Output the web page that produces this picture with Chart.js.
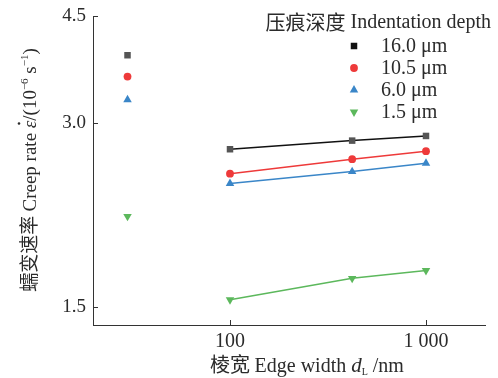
<!DOCTYPE html>
<html>
<head>
<meta charset="utf-8">
<script src="https://cdn.jsdelivr.net/npm/chart.js"></script>
<style>
html, body { margin: 0; padding: 0; background: #fff; }
#wrap { width: 498px; height: 378px; }
</style>
</head>
<body>
<div id="wrap"><canvas id="creepChart"></canvas></div>
<script>
// values (log-log axes)
const depthLabels = ['16.0 μm', '10.5 μm', '6.0 μm', '1.5 μm'];
const edgeWidths = [30, 100, 420, 1000];
const rate16 = [3.88, 2.72, 2.81, 2.86];
const rate105 = [3.58, 2.48, 2.62, 2.70];
const rate60 = [3.28, 2.39, 2.50, 2.58];
const rate15 = [2.11, 1.54, 1.67, 1.72];
const xTicks = [100, 1000];
const yTicks = [1.5, 3.0, 4.5];

const SERIF = "'Liberation Serif', 'Noto Sans CJK SC', serif";
const CJK = "'Noto Sans CJK SC', sans-serif";
const TXT = '#2b2b2b';

const styles = [
    { marker: '#555555', line: '#111111', legend: '#111111', shape: 'rect', r: 4.6, rot: 0 },
    { marker: '#ee3a3a', line: '#ee3a3a', legend: '#ee3a3a', shape: 'circle', r: 3.9, rot: 0 },
    { marker: '#3a86c8', line: '#3a86c8', legend: '#3a86c8', shape: 'triangle', r: 4.9, rot: 0 },
    { marker: '#5cb85c', line: '#5cb85c', legend: '#5cb85c', shape: 'triangle', r: 4.9, rot: 180 }
];
const seriesValues = [rate16, rate105, rate60, rate15];

const datasets = seriesValues.map((vals, i) => ({
    label: depthLabels[i],
    data: edgeWidths.map((x, j) => ({ x: x, y: vals[j] })),
    borderColor: styles[i].line,
    backgroundColor: styles[i].marker,
    pointBackgroundColor: styles[i].marker,
    pointBorderWidth: 0,
    pointStyle: styles[i].shape,
    pointRadius: styles[i].r,
    pointRotation: styles[i].rot,
    borderWidth: 1.5,
    tension: 0,
    // the 30 nm point stands alone, no line to it
    segment: {
        borderColor: c => c.p0DataIndex === 0 ? 'rgba(0,0,0,0)' : undefined
    }
}));

function drawRich(ctx, parts, x, y) {
    let total = 0;
    parts.forEach(p => { ctx.font = p.font; p.w = ctx.measureText(p.t).width; total += p.w; });
    let cx = x - total / 2;
    parts.forEach(p => {
        ctx.font = p.font;
        ctx.fillText(p.t, cx, y + (p.dy || 0));
        if (p.dot) {
            ctx.beginPath();
            ctx.arc(cx + p.w * 0.62, y - 17, 1.3, 0, Math.PI * 2);
            ctx.fill();
        }
        cx += p.w;
    });
}

function marker(ctx, shape, r, rot, x, y) {
    ctx.beginPath();
    if (shape === 'rect') {
        const s = r * Math.SQRT1_2;
        ctx.rect(x - s, y - s, 2 * s, 2 * s);
    } else if (shape === 'circle') {
        ctx.arc(x, y, r, 0, Math.PI * 2);
    } else {
        const d = rot ? -1 : 1;
        ctx.moveTo(x, y - d * r);
        ctx.lineTo(x - r * 0.866, y + d * r * 0.5);
        ctx.lineTo(x + r * 0.866, y + d * r * 0.5);
        ctx.closePath();
    }
    ctx.fill();
}

const decorPlugin = {
    id: 'decor',
    afterDraw(chart) {
        const ctx = chart.ctx;
        const xs = chart.scales.x, ys = chart.scales.y;
        const area = chart.chartArea;
        ctx.save();
        // inward tick marks
        ctx.strokeStyle = '#333';
        ctx.lineWidth = 1;
        ctx.beginPath();
        xTicks.forEach(v => {
            const px = Math.round(xs.getPixelForValue(v)) + 0.5;
            ctx.moveTo(px, area.bottom);
            ctx.lineTo(px, area.bottom - 5);
        });
        yTicks.forEach(v => {
            const py = Math.round(ys.getPixelForValue(v)) + 0.5;
            ctx.moveTo(area.left, py);
            ctx.lineTo(area.left + 5, py);
        });
        ctx.stroke();

        ctx.fillStyle = TXT;
        ctx.textBaseline = 'alphabetic';
        ctx.textAlign = 'left';
        // x title
        drawRich(ctx, [
            { t: '棱宽 ', font: '20px ' + CJK },
            { t: 'Edge width ', font: '20px ' + SERIF },
            { t: 'd', font: 'italic 21px ' + SERIF },
            { t: 'L', font: '10px ' + SERIF, dy: 3 },
            { t: ' /nm', font: '20px ' + SERIF }
        ], 307, 372);

        // y title (rotated)
        ctx.save();
        ctx.translate(36, 170);
        ctx.rotate(-Math.PI / 2);
        drawRich(ctx, [
            { t: '蠕变速率 ', font: '19px ' + CJK },
            { t: 'Creep rate ', font: '19px ' + SERIF },
            { t: 'ε', font: 'italic 19px ' + SERIF, dot: true },
            { t: '/(10', font: '19px ' + SERIF },
            { t: '−6', font: '11px ' + SERIF, dy: -8 },
            { t: ' s', font: '19px ' + SERIF },
            { t: '−1', font: '11px ' + SERIF, dy: -8 },
            { t: ')', font: '19px ' + SERIF }
        ], 0, 0);
        ctx.restore();

        // legend
        ctx.textBaseline = 'middle';
        ctx.textAlign = 'right';
        ctx.font = '20px ' + SERIF;
        const enW = ctx.measureText(' Indentation depth').width;
        ctx.fillText(' Indentation depth', 491, 23);
        ctx.font = '20px ' + CJK;
        ctx.fillText('压痕深度', 491 - enW, 22);
        ctx.textAlign = 'left';
        ctx.font = '20px ' + SERIF;
        chart.data.datasets.forEach((ds, i) => {
            const y = 46 + i * 22;
            ctx.fillStyle = styles[i].legend;
            marker(ctx, styles[i].shape, styles[i].r, styles[i].rot, 354, y);
            ctx.fillStyle = TXT;
            ctx.fillText(ds.label, 381, y + 1);
        });
        ctx.restore();
    }
};

new Chart(document.getElementById('creepChart'), {
    type: 'line',
    data: { datasets: datasets },
    options: {
        responsive: true,
        maintainAspectRatio: false,
        animation: false,
        layout: { padding: { left: 0, right: 13, top: 16, bottom: 0 } },
        plugins: {
            legend: { display: false },
            tooltip: { enabled: false }
        },
        scales: {
            x: {
                type: 'logarithmic',
                min: 20,
                max: 2000,
                afterBuildTicks: s => { s.ticks = xTicks.map(v => ({ value: v })); },
                afterFit: s => { s.height = 53; s.paddingLeft = 0; s.paddingRight = 0; },
                ticks: {
                    callback: v => v === 1000 ? '1 000' : String(v),
                    font: { family: SERIF, size: 20 },
                    color: TXT,
                    padding: 5,
                    maxRotation: 0,
                    autoSkip: false
                },
                grid: { display: false, drawTicks: false },
                border: { color: '#333', width: 1 }
            },
            y: {
                type: 'logarithmic',
                min: 1.4,
                max: 4.5,
                afterBuildTicks: s => { s.ticks = yTicks.map(v => ({ value: v })); },
                afterFit: s => { s.width = 93; s.paddingTop = 0; s.paddingBottom = 0; },
                ticks: {
                    callback: v => Number(v).toFixed(1),
                    font: { family: SERIF, size: 19 },
                    color: TXT,
                    padding: 7,
                    autoSkip: false
                },
                grid: { display: false, drawTicks: false },
                border: { color: '#333', width: 1 }
            }
        }
    },
    plugins: [decorPlugin]
});
</script>
</body>
</html>
